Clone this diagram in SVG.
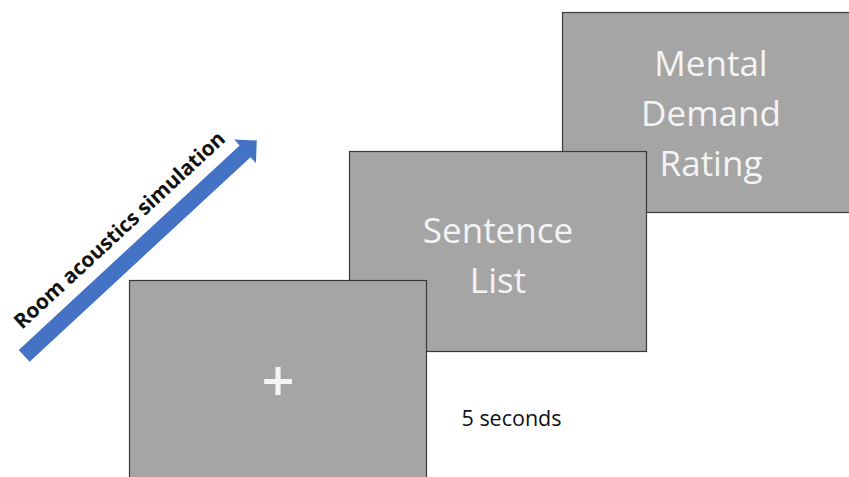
<svg xmlns="http://www.w3.org/2000/svg" width="849" height="477" viewBox="0 0 849 477">
<style>
.screen{fill:#a5a5a5;stroke:#3a3a3a;stroke-width:1.2}
.lbl{font-family:"Open Sans","Noto Sans",sans-serif;font-size:35px;fill:#f4f4f4;text-anchor:middle}
.note{font-family:"Open Sans","Noto Sans",sans-serif;font-size:21.5px;fill:#111}
.arrowlbl{font-family:"Open Sans","Noto Sans",sans-serif;font-size:20.8px;font-weight:bold;fill:#111}
</style>
<rect width="849" height="477" fill="#ffffff"/>
<g id="connectors">
<g id="time-arrow" transform="translate(24.2,355.8) rotate(-42.8)">
<polygon points="0,-8 301,-8 301,-16 317,0 301,16 301,8 0,8" fill="#4472c4"/>
<text class="arrowlbl" x="16" y="-20.5">Room acoustics simulation</text>
</g>
</g>
<g id="mental-demand">
<rect class="screen" x="562.5" y="12.5" width="297" height="200"/>
<text class="lbl" x="711" y="76">Mental</text>
<text class="lbl" x="711" y="126">Demand</text>
<text class="lbl" x="711" y="176">Rating</text>
</g>
<g id="sentence-list">
<rect class="screen" x="349.5" y="151.5" width="297" height="200"/>
<text class="lbl" x="498" y="243">Sentence</text>
<text class="lbl" x="498" y="293">List</text>
</g>
<g id="fixation">
<rect class="screen" x="129.5" y="280.5" width="297" height="200"/>
<text class="lbl" x="278" y="402" style="font-size:58px;font-weight:600">+</text>
</g>
<g id="duration">
<text class="note" x="461.5" y="426">5 seconds</text>
</g>
</svg>
